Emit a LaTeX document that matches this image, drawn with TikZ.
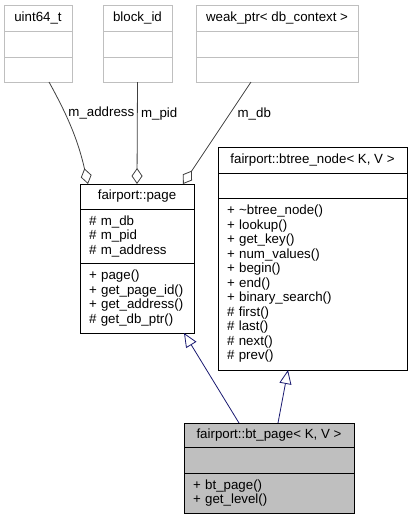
\documentclass[tikz,border=0pt]{standalone}
\usepackage{fontspec}
\setmainfont{Liberation Sans}
\usetikzlibrary{positioning,arrows.meta}
\definecolor{boxgray}{HTML}{BFBFBF}
\definecolor{edgegray}{HTML}{404040}
\definecolor{inhblue}{HTML}{191970}

\begin{document}
\begin{tikzpicture}[x=1pt, y=-1pt,
    every node/.style={font=\fontsize{13.3}{14.5}\selectfont},
    part/.style={draw, anchor=north west, inner sep=0pt, outer sep=0pt, line width=0.8pt},
    ext/.style={part, draw=boxgray},
    memb/.style={part, align=left, inner xsep=9pt},
    aggr/.style={draw=edgegray, line width=0.8pt, -{Diamond[open, length=16pt, width=11pt]}},
    inh/.style={draw=inhblue, line width=0.8pt, -{Triangle[open, length=14pt, width=12pt]}}]

    \useasboundingbox (0,0) rectangle (413,520);

    % used types
    \node[ext, minimum width=68pt, minimum height=26pt] (uint-h) at (4,5) {uint64\_t};
    \node[ext, below=0pt of uint-h, minimum width=68pt, minimum height=26pt] (uint-a) {};
    \node[ext, below=0pt of uint-a, minimum width=68pt, minimum height=25pt] (uint-m) {};

    \node[ext, minimum width=69pt, minimum height=26pt] (blk-h) at (103,5) {block\_id};
    \node[ext, below=0pt of blk-h, minimum width=69pt, minimum height=26pt] (blk-a) {};
    \node[ext, below=0pt of blk-a, minimum width=69pt, minimum height=25pt] (blk-m) {};

    \node[ext, minimum width=162pt, minimum height=26pt] (weak-h) at (196,5) {weak\_ptr< db\_context >};
    \node[ext, below=0pt of weak-h, minimum width=162pt, minimum height=26pt] (weak-a) {};
    \node[ext, below=0pt of weak-a, minimum width=162pt, minimum height=25pt] (weak-m) {};

    % base classes
    \node[part, minimum width=114pt, minimum height=25pt] (page-h) at (80,184) {fairport::page};
    \node[memb, below=0pt of page-h, minimum width=114pt, text width=96pt, minimum height=54pt] (page-a)
        {\# m\_db\\\# m\_pid\\\# m\_address};
    \node[memb, below=0pt of page-a, minimum width=114pt, text width=96pt, minimum height=70pt] (page-m)
        {+ page()\\+ get\_page\_id()\\+ get\_address()\\\# get\_db\_ptr()};

    \node[part, minimum width=189pt, minimum height=26pt] (btree-h) at (218,147) {fairport::btree\_node< K, V >};
    \node[part, below=0pt of btree-h, minimum width=189pt, minimum height=25pt] (btree-a) {};
    \node[memb, below=0pt of btree-a, minimum width=189pt, text width=171pt, minimum height=172pt] (btree-m)
        {+ \textasciitilde btree\_node()\\+ lookup()\\+ get\_key()\\+ num\_values()\\+ begin()\\+ end()\\
         + binary\_search()\\\# first()\\\# last()\\\# next()\\\# prev()};

    % derived class
    \node[part, fill=boxgray, minimum width=170pt, minimum height=24pt] (bt-h) at (184,423) {fairport::bt\_page< K, V >};
    \node[part, fill=boxgray, below=0pt of bt-h, minimum width=170pt, minimum height=26pt] (bt-a) {};
    \node[memb, fill=boxgray, below=0pt of bt-a, minimum width=170pt, text width=152pt, minimum height=40pt] (bt-m)
        {+ bt\_page()\\+ get\_level()};

    % members
    \draw[aggr] ([xshift=11pt]uint-m.south) to[bend left=8] node[right, pos=0.3] {m\_address} ([xshift=-49pt]page-h.north);
    \draw[aggr] (blk-m.south) -- node[right, pos=0.31] {m\_pid} (page-h.north);
    \draw[aggr] ([xshift=-26pt]weak-m.south) -- node[right, pos=0.31, xshift=4pt] {m\_db} ([xshift=46pt]page-h.north);

    % inheritance
    \draw[inh] ([xshift=-30pt]bt-h.north) -- ([xshift=47pt]page-m.south);
    \draw[inh] ([xshift=9pt]bt-h.north) -- ([xshift=-24.5pt]btree-m.south);

\end{tikzpicture}
\end{document}
